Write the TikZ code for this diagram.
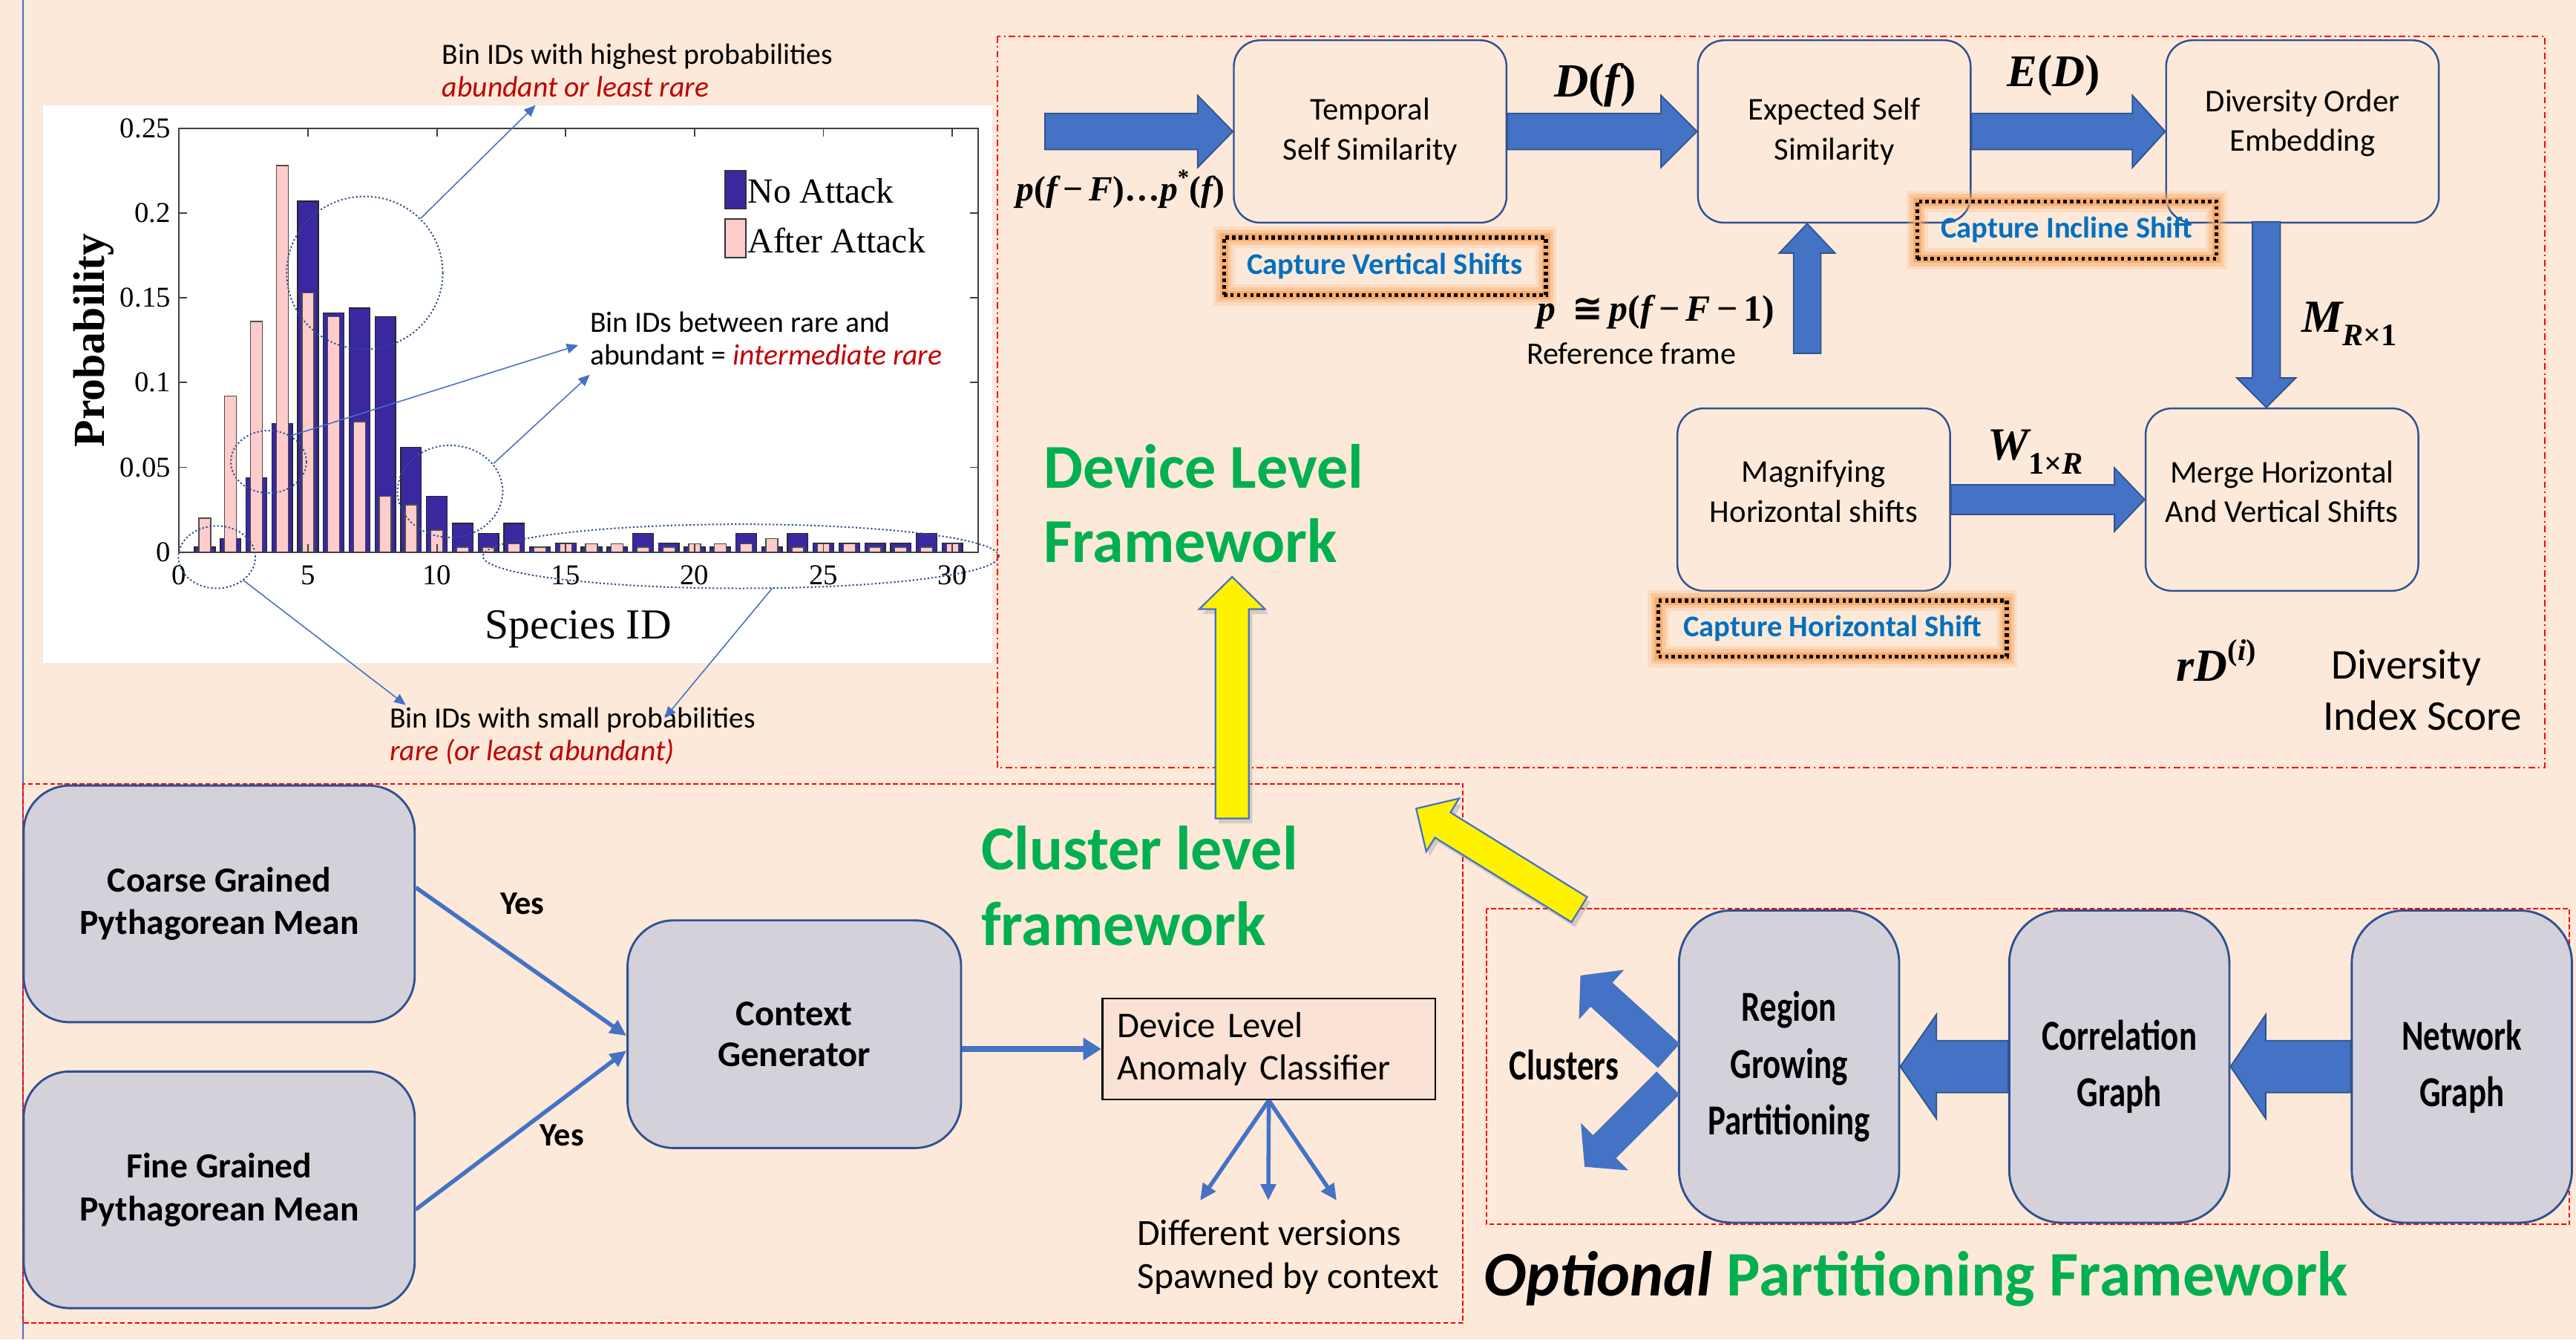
\documentclass[tikz,border=0pt]{standalone}
\usepackage{fontspec}
\setmainfont{Carlito}
\newfontfamily\narrowfont[FakeStretch=0.78]{Carlito}
\newfontfamily\timesfont{Liberation Serif}
\newfontfamily\symbfont{DejaVu Sans}
\usetikzlibrary{calc,arrows.meta,shadows}

\definecolor{bgpeach}{RGB}{253,233,217}
\definecolor{arrblue}{RGB}{68,114,196}
\definecolor{edgeblue}{RGB}{47,82,143}
\definecolor{boxgray}{RGB}{213,209,219}
\definecolor{barblue}{RGB}{57,40,160}
\definecolor{barpink}{RGB}{255,204,204}
\definecolor{fwgreen}{RGB}{0,176,80}
\definecolor{notered}{RGB}{192,0,0}
\definecolor{capblue}{RGB}{0,112,192}
\definecolor{glow}{RGB}{248,165,95}
\definecolor{clsfill}{RGB}{250,226,212}

\newcommand{\fsz}[2]{\fontsize{#1}{#2}\selectfont}
% formula letters: bold italic serif
\newcommand{\fvar}[1]{{\timesfont\bfseries\itshape #1}}
\newcommand{\fup}[1]{{\timesfont\bfseries #1}}
\newcommand{\fsub}[1]{\raisebox{-0.3em}{\fontsize{0.68em}{0.8em}\selectfont #1}}
\newcommand{\fsup}[1]{\raisebox{0.45em}{\fontsize{0.65em}{0.8em}\selectfont #1}}

% block arrow polygon: #1 style, #2 tail, #3 tip, #4 half shaft, #5 half head, #6 head length
\newcommand{\blkarrow}[6]{%
  \coordinate (blk-base) at ($(#3)!#6!(#2)$);
  \path[#1] ($(#2)!#4!90:(#3)$) -- ($(blk-base)!#4!90:(#3)$) -- ($(blk-base)!#5!90:(#3)$)
    -- (#3) -- ($(blk-base)!#5!-90:(#3)$) -- ($(blk-base)!#4!-90:(#3)$)
    -- ($(#2)!#4!-90:(#3)$) -- cycle;}

\tikzset{
  devbox/.style={draw=edgeblue, line width=1.1pt, rounded corners=16pt, minimum width=166pt,
    minimum height=111pt, align=center, inner sep=0pt, font=\fsz{19.3}{24}},
  graybox/.style={draw=edgeblue, line width=1.3pt, fill=boxgray, align=center, inner sep=0pt},
  capbox/.style={draw=black, line width=2.4pt, dash pattern=on 2pt off 2pt, align=center,
    inner sep=0pt, font=\fsz{18.3}{22}\bfseries, text=capblue,
    preaction={draw=glow, solid, line width=13pt, opacity=0.2},
    preaction={draw=glow, solid, line width=9pt, opacity=0.35},
    preaction={draw=glow, solid, line width=5pt, opacity=0.75}},
  blockfill/.style={fill=arrblue, draw=edgeblue, line width=0.8pt},
  blockplain/.style={fill=arrblue},
  yellowarrow/.style={fill=yellow, draw=arrblue, line width=1pt,
    drop shadow={opacity=0.3, shadow xshift=2pt, shadow yshift=-3pt}},
  thinarrow/.style={draw=arrblue, line width=2.5pt, -{Triangle[length=10pt,width=9pt]}},
  notearrow/.style={draw=arrblue, line width=0.7pt, -{Triangle[length=7pt,width=6pt]}},
  noteellipse/.style={draw=edgeblue, line width=0.9pt, dash pattern=on 1pt off 1.3pt},
  redframe/.style={draw=red, line width=1pt, dash pattern=on 3pt off 1.5pt},
  reddashdot/.style={draw=red, line width=0.9pt, dash pattern=on 4pt off 2pt on 1pt off 2pt},
  notetext/.style={anchor=west, align=left, inner sep=0pt, font=\fsz{17.9}{20}},
  formula/.style={inner sep=0pt},
  charttext/.style={inner sep=0pt, font=\timesfont\fsz{17.5}{20}}
}

\begin{document}
\begin{tikzpicture}[x=1pt,y=-1pt]
\useasboundingbox (0,0) rectangle (1568,815);
\fill[bgpeach] (0,0) rectangle (1568,815);
\draw[arrblue, line width=1pt] (14,0) -- (14,815);

% ---------------- histogram ----------------
\filldraw[fill=white, draw=black!8] (26,64) rectangle (604,403.5);
\begin{scope}[shift={(109pt,-336pt)}, x=15.69pt, y=1032pt]
  \foreach \i/\nb/\na in {1/0.003/0.020, 2/0.008/0.092, 3/0.044/0.136, 4/0.076/0.228,
      5/0.207/0.153, 6/0.141/0.139, 7/0.144/0.077, 8/0.139/0.033, 9/0.062/0.028,
      10/0.033/0.013, 11/0.017/0.003, 12/0.011/0.003, 13/0.017/0.005, 14/0.003/0.003,
      15/0.0055/0.005, 16/0.003/0.005, 17/0.003/0.005, 18/0.011/0.003, 19/0.0055/0.003,
      20/0.003/0.005, 21/0.003/0.005, 22/0.011/0.005, 23/0.003/0.008, 24/0.011/0.003,
      25/0.0055/0.005, 26/0.0055/0.005, 27/0.0055/0.003, 28/0.0055/0.003, 29/0.011/0.003,
      30/0.0055/0.005} {
    \filldraw[fill=barblue, draw=black!85, line width=0.6pt] (\i-0.4,0) rectangle (\i+0.4,\nb);
    \filldraw[fill=barpink, draw=black!70, line width=0.6pt] (\i-0.23,0) rectangle (\i+0.23,\na);
  }
  \draw[black!75, line width=0.9pt] (0,0) rectangle (31,0.25);
  \foreach \t [count=\k] in {0,5,...,30} {
    \draw[black!75, line width=0.8pt] (\t,0) -- ++(0pt,5pt);
    \draw[black!75, line width=0.8pt] (\t,0.25) -- ++(0pt,-5pt);
    \node[charttext, anchor=north] (xtick\k) at ([yshift=-8pt]\t,0) {\t};
  }
  \foreach \v/\lab [count=\k] in {0/0, 0.05/0.05, 0.1/0.1, 0.15/0.15, 0.2/0.2, 0.25/0.25} {
    \draw[black!75, line width=0.8pt] (0,\v) -- ++(5pt,0pt);
    \draw[black!75, line width=0.8pt] (31,\v) -- ++(-5pt,0pt);
    \node[charttext, anchor=east] (ytick\k) at ([xshift=-5pt]0,\v) {\lab};
  }
\end{scope}
\node[inner sep=0pt, font=\timesfont\fsz{26}{30}] (xlabel) at (352,383) {Species ID};
\node[inner sep=0pt, font=\timesfont\bfseries\fsz{27}{30}, rotate=90] (ylabel) at (57,207) {Probability};
\filldraw[fill=barblue, draw=black!80, line width=0.8pt] (441.5,104) rectangle (454,127);
\filldraw[fill=barpink, draw=black!80, line width=0.8pt] (441.5,133.4) rectangle (454,156.6);
\node[inner sep=0pt, anchor=west, font=\timesfont\fsz{21.5}{24}] (leg1) at (455,116) {No Attack};
\node[inner sep=0pt, anchor=west, font=\timesfont\fsz{21.5}{24}] (leg2) at (455,146.5) {After Attack};

% highlighted regions of the histogram
\draw[noteellipse] (222,166) ellipse [x radius=47.5pt, y radius=46.5pt];
\draw[noteellipse] (163.5,281) ellipse [x radius=23pt, y radius=19pt];
\draw[noteellipse] (274,299) ellipse [x radius=32pt, y radius=28pt];
\draw[noteellipse] (132,339) ellipse [x radius=23.4pt, y radius=19pt];
\draw[noteellipse] (451,338.5) ellipse [x radius=157pt, y radius=19.5pt];

\node[notetext] (n-high) at (269,43) {Bin IDs with highest probabilities\\\textcolor{notered}{\itshape abundant or least rare}};
\node[notetext] (n-mid) at (359,206) {Bin IDs between rare and\\abundant = \textcolor{notered}{\itshape intermediate rare}};
\node[notetext] (n-low) at (237,448) {Bin IDs with small probabilities\\\textcolor{notered}{\itshape rare (or least abundant)}};

\coordinate (a1s) at (256,133);   \coordinate (a1e) at (326,64);
\coordinate (a2s) at (177.5,265); \coordinate (a2e) at (352,210);
\coordinate (a3s) at (300.5,282); \coordinate (a3e) at (359,228);
\coordinate (a4s) at (148,353);   \coordinate (a4e) at (247,429);
\coordinate (a5s) at (470,358);   \coordinate (a5e) at (404.5,437);
\foreach \k in {1,...,5} { \draw[notearrow] (a\k s) -- (a\k e); }

% ---------------- frames ----------------
\draw[reddashdot] (607,22) rectangle (1549,467);
\draw[redframe] (14,477) rectangle (890.5,805);
\draw[redframe] (905,553) rectangle (1564,745);

% ---------------- device level framework ----------------
\node[devbox] (temporal) at (834,80) {Temporal\\Self Similarity};
\node[devbox] (expected) at (1116.5,80) {Expected Self\\Similarity};
\node[devbox] (divorder) at (1401.5,80) {};
\node[inner sep=0pt, align=center, font=\fsz{19.3}{24}] (t-divorder) at ([yshift=5pt]divorder.center) {Diversity Order\\Embedding};
\node[devbox] (magnify) at (1104,304) {};
\node[inner sep=0pt, align=center, font=\fsz{19.3}{24}] (t-magnify) at ([yshift=5pt]magnify.center) {Magnifying\\Horizontal shifts};
\node[devbox] (merge) at (1389,304) {};
\node[inner sep=0pt, align=center, font=\fsz{19.3}{24}] (t-merge) at ([yshift=5pt]merge.center) {Merge Horizontal\\And Vertical Shifts};

\coordinate (in-tail) at (636,80);
\coordinate (refup) at (1100,215);
\coordinate (refup-end) at (refup |- expected.south);
\coordinate (mdown-start) at (1379.5,135);
\coordinate (mdown-end) at (mdown-start |- merge.north);
\blkarrow{blockfill}{in-tail}{temporal.west}{11pt}{22pt}{21.5pt}
\blkarrow{blockfill}{temporal.east}{expected.west}{11pt}{22pt}{22pt}
\blkarrow{blockfill}{expected.east}{divorder.west}{11pt}{22pt}{20pt}
\blkarrow{blockfill}{refup}{refup-end}{8.3pt}{17pt}{18pt}
\blkarrow{blockfill}{mdown-start}{mdown-end}{8.5pt}{18pt}{18pt}
\blkarrow{blockfill}{magnify.east}{merge.west}{9pt}{19.3pt}{18.4pt}

\node[capbox, minimum width=196pt, minimum height=35pt] (capV) at (843,162) {Capture Vertical Shifts};
\node[capbox, minimum width=182pt, minimum height=35pt] (capI) at (1258,140) {Capture Incline Shift};
\node[capbox, minimum width=212pt, minimum height=34pt] (capH) at (1115.5,382.5) {Capture Horizontal Shift};

\node[formula, font=\fsz{21.5}{24}] (lbl-in) at (682,115) {\fvar{p}\fup{(}\fvar{f}\,\fup{−}\,\fvar{F}\fup{)…}\fvar{p}\fsup{\fup{*}}\fup{(}\fvar{f}\fup{)}};
\node[formula, font=\fsz{29}{32}] (lbl-d) at (971,52) {\fvar{D}\fup{(}\fvar{f}\fup{)}};
\node[formula, font=\fsz{27.5}{30}] (lbl-e) at (1250,46) {\fvar{E}\fup{(}\fvar{D}\fup{)}};
\node[formula, font=\fsz{22.5}{25}] (lbl-ref) at (1008,190) {\fvar{p}\ \ {\symbfont\bfseries ≅}\,\fvar{p}\fup{(}\fvar{f}\,\fup{−}\,\fvar{F}\,\fup{−}\,\fup{1)}};
\node[inner sep=0pt, font=\fsz{19}{23}] (t-ref) at (993,215) {Reference frame};
\node[formula, font=\fsz{28}{30}] (lbl-m) at (1430,197) {\fvar{M}\fsub{\fvar{R}\fup{×1}}};
\node[formula, font=\fsz{28}{30}] (lbl-w) at (1239,275) {\fvar{W}\fsub{\fup{1×}\fvar{R}}};
\node[formula, font=\fsz{28}{30}] (lbl-rd) at (1349,402) {\fvar{rD}\fsup{\fup{(}\fvar{i}\fup{)}}};
\node[inner sep=0pt, anchor=west, align=left, font=\fsz{25.8}{31}] (t-score) at (1414,420) {\hspace*{5pt}Diversity\\Index Score};

\node[inner sep=0pt, anchor=west, align=left, text=fwgreen, font=\bfseries\fsz{38}{45}] (t-device) at (635,306.5) {Device Level\\Framework};

% ---------------- cluster level framework ----------------
\node[graybox, rounded corners=28pt, minimum width=238pt, minimum height=144pt, font=\bfseries\fsz{21.5}{26}] (coarse) at (133.4,550) {Coarse Grained\\Pythagorean Mean};
\node[graybox, rounded corners=28pt, minimum width=238pt, minimum height=144pt, font=\bfseries\fsz{21.5}{26}] (fine) at (133.4,724) {Fine Grained\\Pythagorean Mean};
\node[graybox, rounded corners=28pt, minimum width=203pt, minimum height=138.5pt, font=\bfseries\fsz{22}{25}] (context) at (483.5,629.3) {Context\\Generator};
\node[draw=black, line width=1.2pt, fill=clsfill, minimum width=202.6pt, minimum height=61.4pt,
  text width=184pt, inner xsep=9pt, inner ysep=0pt, align=left, font=\fsz{22}{26}] (classifier) at (772.3,638.3) {Device Level\\Anomaly Classifier};

\draw[thinarrow] ([yshift=10pt]coarse.east) -- ([yshift=-1pt]context.west);
\draw[thinarrow] ([yshift=-12pt]fine.east) -- ([yshift=-10pt]context.west);
\draw[draw=arrblue, line width=4pt, -{Triangle[length=11pt,width=13pt]}] (context.east |- classifier.west) -- (classifier.west);
\coordinate (sp1) at (730.5,730.5);
\coordinate (sp2) at (772,730.5);
\coordinate (sp3) at (813.6,730.5);
\foreach \k in {1,2,3} { \draw[thinarrow] (classifier.south) -- (sp\k); }

\node[inner sep=0pt, font=\bfseries\fsz{20}{24}] (yes1) at (318,550) {Yes};
\node[inner sep=0pt, font=\bfseries\fsz{20}{24}] (yes2) at (342,691) {Yes};
\node[inner sep=0pt, anchor=west, align=left, font=\fsz{22.5}{26}] (t-spawn) at (692,765) {Different versions\\Spawned by context};
\node[inner sep=0pt, anchor=west, align=left, text=fwgreen, font=\bfseries\fsz{38}{46}] (t-cluster) at (597,539) {Cluster level\\framework};

% ---------------- partitioning framework ----------------
\node[graybox, rounded corners=32pt, minimum width=134pt, minimum height=190pt, font=\narrowfont\bfseries\fsz{26}{34.5}] (region) at (1089,649) {Region\\Growing\\Partitioning};
\node[graybox, rounded corners=32pt, minimum width=134pt, minimum height=190pt, font=\narrowfont\bfseries\fsz{26}{34.5}] (correl) at (1290,649) {Correlation\\Graph};
\node[graybox, rounded corners=32pt, minimum width=134pt, minimum height=190pt, font=\narrowfont\bfseries\fsz{26}{34.5}] (network) at (1498.5,649) {Network\\Graph};

\blkarrow{blockfill}{network.west}{correl.east}{15.8pt}{31.7pt}{21.5pt}
\blkarrow{blockfill}{correl.west}{region.east}{15.8pt}{31.7pt}{22pt}
\coordinate (cl-up-base) at ([shift={(-5.5pt,6.5pt)}]region.west);
\coordinate (cl-dn-base) at ([shift={(-6pt,-10pt)}]region.west);
\coordinate (cl-up) at (962,593.6);
\coordinate (cl-dn) at (964.5,710);
\blkarrow{blockplain}{cl-up-base}{cl-up}{9.9pt}{20.4pt}{17.3pt}
\blkarrow{blockplain}{cl-dn-base}{cl-dn}{9.9pt}{20.4pt}{17.3pt}
\node[inner sep=0pt, font=\narrowfont\bfseries\fsz{26}{30}] (t-clusters) at (952,648) {Clusters};

\node[inner sep=0pt, anchor=west, font=\bfseries\fsz{38.6}{44}] (t-optional) at (903,778) {\itshape Optional\/ \upshape\textcolor{fwgreen}{Partitioning Framework}};

% ---------------- links between levels ----------------
\coordinate (yv-tail) at (750,498);
\coordinate (yv-tip) at (750,351);
\coordinate (yd-tail) at (961.3,553.5);
\coordinate (yd-tip) at (862,492);
\blkarrow{yellowarrow}{yv-tail}{yv-tip}{10.2pt}{20pt}{19.6pt}
\blkarrow{yellowarrow}{yd-tail}{yd-tip}{9pt}{19pt}{19pt}

\end{tikzpicture}
\end{document}
